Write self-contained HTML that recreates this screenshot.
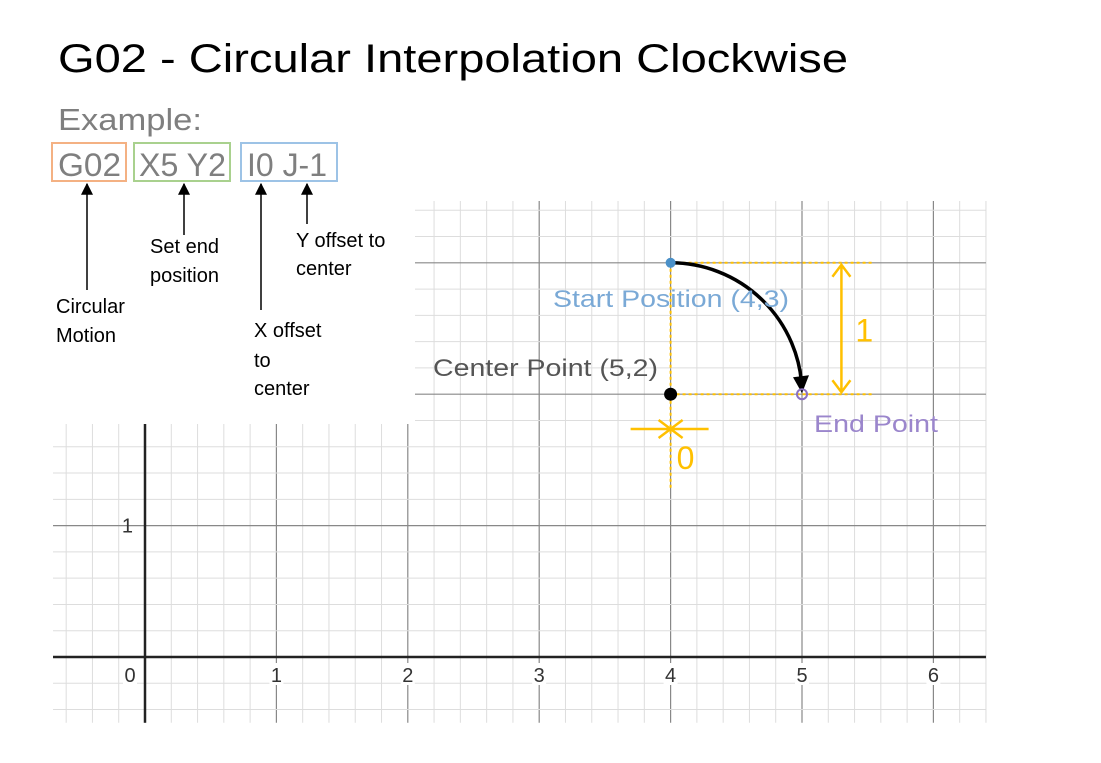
<!DOCTYPE html>
<html><head><meta charset="utf-8">
<style>
html,body{margin:0;padding:0;background:#fff;}
svg{display:block;}
text{font-family:"Liberation Sans",sans-serif;}
</style></head>
<body>
<svg id="chart" width="1101" height="763" viewBox="0 0 1101 763" xmlns="http://www.w3.org/2000/svg">
  <defs>
    <marker id="blk" viewBox="0 0 10 10" refX="9" refY="5" markerWidth="8" markerHeight="8" orient="auto-start-reverse"><path d="M0,0 L10,5 L0,10 z" fill="#000"/></marker>
  </defs>
  <g id="grid"></g>
  <rect x="0" y="0" width="415" height="424" fill="#fff"/>
  <g id="marks"></g>

  <text x="58" y="72" font-size="40" textLength="790" lengthAdjust="spacingAndGlyphs" fill="#000">G02 - Circular Interpolation Clockwise</text>
  <text x="58" y="130" font-size="31" textLength="144" lengthAdjust="spacingAndGlyphs" fill="#7f7f7f">Example:</text>

  <rect x="52" y="143" width="74" height="38" fill="none" stroke="#f4b183" stroke-width="2"/>
  <rect x="134" y="143" width="96" height="38" fill="none" stroke="#a9d18e" stroke-width="2"/>
  <rect x="241" y="143" width="96" height="38" fill="none" stroke="#9dc3e6" stroke-width="2"/>
  <text x="58" y="176" font-size="32" textLength="63" lengthAdjust="spacingAndGlyphs" fill="#7f7f7f">G02</text>
  <text x="139" y="176" font-size="32" textLength="87" lengthAdjust="spacingAndGlyphs" fill="#7f7f7f">X5 Y2</text>
  <text x="247" y="176" font-size="32" textLength="80" lengthAdjust="spacingAndGlyphs" fill="#7f7f7f">I0 J-1</text>

  <g stroke="#000" stroke-width="1.5">
    <line x1="87" y1="290" x2="87" y2="184" marker-end="url(#blk)"/>
    <line x1="184" y1="235" x2="184" y2="184" marker-end="url(#blk)"/>
    <line x1="261" y1="310" x2="261" y2="184" marker-end="url(#blk)"/>
    <line x1="307" y1="224" x2="307" y2="184" marker-end="url(#blk)"/>
  </g>
  <g font-size="20" fill="#000">
    <text x="150" y="253">Set end</text>
    <text x="150" y="282">position</text>
    <text x="296" y="247">Y offset to</text>
    <text x="296" y="275">center</text>
    <text x="56" y="313">Circular</text>
    <text x="56" y="342">Motion</text>
    <text x="254" y="337">X offset</text>
    <text x="254" y="367">to</text>
    <text x="254" y="395">center</text>
  </g>
</svg>
<script>
const xTicks = [0,1,2,3,4,5,6];
const yTicks = [1];
const startPt = [4,3];
const centerPt = [4,2];
const endPt = [5,2];
const pointLabels = ["Start Position (4,3)","Center Point (5,2)","End Point"];
const offsetI = 0, offsetJ = -1;

const X0=145, Y0=657, U=131.4;
const sx = v => X0 + v*U;
const sy = v => Y0 - v*U;
const NS="http://www.w3.org/2000/svg";
function mk(tag, attrs, parent){const e=document.createElementNS(NS,tag);for(const k in attrs)e.setAttribute(k,attrs[k]);parent.appendChild(e);return e;}

const grid=document.getElementById('grid');
const xmin=-0.7,xmax=6.4,ymin=-0.5,ymax=3.47;
for(let i=Math.ceil(xmin*5);i<=Math.floor(xmax*5);i++){
  const v=i/5, major=i%5===0;
  const l=mk('line',{x1:sx(v),x2:sx(v),y1:sy(ymin),y2:sy(ymax),stroke:major?'#888':'#ddd','stroke-width':major?1.2:1},grid);
  
  
}
for(let i=Math.ceil(ymin*5);i<=Math.floor(ymax*5);i++){
  const v=i/5, major=i%5===0;
  const l=mk('line',{x1:sx(xmin),x2:sx(xmax),y1:sy(v),y2:sy(v),stroke:major?'#888':'#ddd','stroke-width':major?1.2:1},grid);
  
  
}
const xa=mk('line',{x1:sx(xmin),x2:sx(xmax),y1:sy(0),y2:sy(0),stroke:'#222','stroke-width':2.5},grid);


const ya=mk('line',{x1:sx(0),x2:sx(0),y1:sy(ymin),y2:sy(ymax),stroke:'#222','stroke-width':2.5},grid);


xTicks.forEach(t=>{
  const x=t===0?sx(t)-15:sx(t);
  mk('rect',{x:x-7,y:663,width:14,height:22,fill:'#fff'},grid);
  const tx=mk('text',{x:x,y:682,'font-size':20,'text-anchor':'middle',fill:'#333'},grid);
  tx.textContent=t;
  
  
});
yTicks.forEach(t=>{
  const tx=mk('text',{x:sx(0)-12,y:sy(t)+7,'font-size':20,'text-anchor':'end',fill:'#333'},grid);
  tx.textContent=t;
  
  
});

const m=document.getElementById('marks');
const Y='#ffc000';
const ext=5.55;
const d1=mk('line',{x1:sx(startPt[0]),x2:sx(ext),y1:sy(startPt[1]),y2:sy(startPt[1]),stroke:Y,'stroke-width':2,'stroke-dasharray':'3,3'},m);


const d2=mk('line',{x1:sx(centerPt[0]),x2:sx(ext),y1:sy(centerPt[1]),y2:sy(centerPt[1]),stroke:Y,'stroke-width':2,'stroke-dasharray':'3,3'},m);


const d3=mk('line',{x1:sx(startPt[0]),x2:sx(startPt[0]),y1:sy(startPt[1]),y2:sy(1.27),stroke:Y,'stroke-width':2,'stroke-dasharray':'3,3'},m);


const jx=sx(5.3);
const ja=mk('path',{d:`M${jx},${sy(2)-2} L${jx},${sy(3)+2} M${jx-9},${sy(3)+14} L${jx},${sy(3)+2} L${jx+9},${sy(3)+14} M${jx-9},${sy(2)-14} L${jx},${sy(2)-2} L${jx+9},${sy(2)-14}`,stroke:Y,'stroke-width':2.5,fill:'none'},m);


const jt=mk('text',{x:jx+14,y:(sy(2)+sy(3))/2+13,'font-size':32,fill:Y},m);
jt.textContent=Math.abs(offsetJ);


const ix=sx(centerPt[0]+offsetI), iy=429;
const ia=mk('path',{d:`M${ix-40},${iy} L${ix},${iy} M${ix-12},${iy-9} L${ix},${iy} L${ix-12},${iy+9} M${ix+38},${iy} L${ix},${iy} M${ix+12},${iy-9} L${ix},${iy} L${ix+12},${iy+9}`,stroke:Y,'stroke-width':2.5,fill:'none'},m);


const it=mk('text',{x:ix+6,y:iy+40,'font-size':32,fill:Y},m);
it.textContent=offsetI;


const r=Math.hypot(startPt[0]-centerPt[0],startPt[1]-centerPt[1])*U;
const arc=mk('path',{d:`M${sx(startPt[0])},${sy(startPt[1])} A${r},${r} 0 0 1 ${sx(endPt[0])},${sy(endPt[1])-4}`,stroke:'#000','stroke-width':3.5,fill:'none'},m);


const ex=sx(endPt[0]), ey=sy(endPt[1]);
const ah=mk('path',{d:`M${ex-9},${ey-17} L${ex+7},${ey-19} L${ex},${ey-1} z`,fill:'#000'},m);


const p1=mk('circle',{cx:sx(startPt[0]),cy:sy(startPt[1]),r:5,fill:'#4a90c8'},m);


const p2=mk('circle',{cx:sx(centerPt[0]),cy:sy(centerPt[1]),r:6.5,fill:'#000'},m);


const p3=mk('circle',{cx:sx(endPt[0]),cy:sy(endPt[1]),r:5,fill:'none',stroke:'#8a6fc0','stroke-width':2},m);


const l1=mk('text',{x:553,y:sy(startPt[1])+44,'font-size':24,fill:'#7aa9d6',textLength:236,lengthAdjust:'spacingAndGlyphs'},m);
l1.textContent=pointLabels[0];


const l2=mk('text',{x:433,y:sy(centerPt[1])-18,'font-size':24,fill:'#555',textLength:225,lengthAdjust:'spacingAndGlyphs'},m);
l2.textContent=pointLabels[1];


const l3=mk('text',{x:814,y:sy(endPt[1])+38,'font-size':24,fill:'#9b86cc',textLength:124,lengthAdjust:'spacingAndGlyphs'},m);
l3.textContent=pointLabels[2];


</script>
</body></html>
